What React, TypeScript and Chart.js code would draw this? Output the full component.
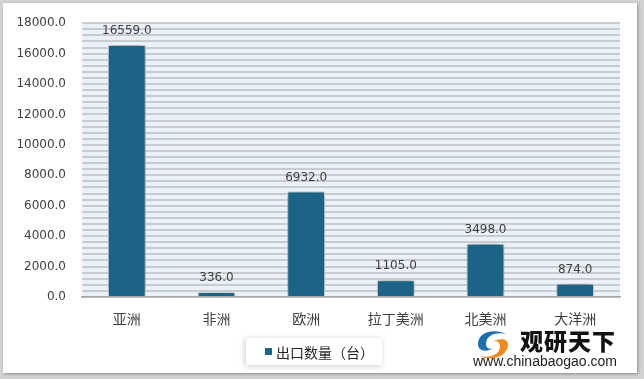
import React, { useEffect, useRef } from "react";
import { Chart, registerables } from "chart.js";

Chart.register(...registerables);

const categories = ["亚洲", "非洲", "欧洲", "拉丁美洲", "北美洲", "大洋洲"];
const exportCounts = [16559.0, 336.0, 6932.0, 1105.0, 3498.0, 874.0];
const seriesName = "出口数量（台）";
const yMax = 18000;
const yMajorStep = 2000;
const yStripeStep = 400;

const W = 644;
const H = 379;

export default function App() {
  const canvasRef = useRef<HTMLCanvasElement | null>(null);

  useEffect(() => {
    const canvas = canvasRef.current;
    if (!canvas) return;

    const bgPlugin = {
      id: "plotBg",
      beforeDraw(chart: any) {
        const { ctx, chartArea } = chart;
        ctx.save();
        ctx.fillStyle = "#eaf1f8";
        ctx.fillRect(chartArea.left, chartArea.top, chartArea.right - chartArea.left, chartArea.bottom - chartArea.top);
        ctx.restore();
      },
    };

    const shadowPlugin = {
      id: "barShadow",
      beforeDatasetsDraw(chart: any) {
        const ctx = chart.ctx;
        ctx.save();
        ctx.shadowColor = "rgba(0,0,0,0.6)";
        ctx.shadowBlur = 9;
        ctx.shadowOffsetX = 0;
        ctx.shadowOffsetY = 0;
      },
      afterDatasetsDraw(chart: any) {
        chart.ctx.restore();
      },
    };

    const labelPlugin = {
      id: "valueLabels",
      afterDraw(chart: any) {
        const ctx = chart.ctx;
        const meta = chart.getDatasetMeta(0);
        ctx.save();
        ctx.font = "12px 'DejaVu Sans', Verdana, sans-serif";
        ctx.fillStyle = "#404040";
        ctx.textAlign = "center";
        ctx.textBaseline = "alphabetic";
        meta.data.forEach((bar: any, i: number) => {
          const v = exportCounts[i];
          ctx.fillText(v.toFixed(1), bar.x, bar.y - 11);
        });
        ctx.restore();
      },
    };

    const chart = new Chart(canvas, {
      type: "bar",
      data: {
        labels: categories,
        datasets: [
          {
            label: seriesName,
            data: exportCounts,
            backgroundColor: "#1b6485",
            borderColor: "#f0f4f7",
            borderWidth: 1,
            categoryPercentage: 1,
            barPercentage: 0.42,
          },
        ],
      },
      options: {
        animation: false,
        responsive: false,
        devicePixelRatio: 1,
        layout: { padding: { top: 19, right: 24, bottom: 0, left: 0 } },
        plugins: {
          legend: { display: false },
          tooltip: { enabled: false },
        },
        scales: {
          x: {
            grid: { display: false, drawTicks: false },
            border: { display: true, color: "#a6a6a6", width: 1.5 },
            ticks: {
              color: "#404040",
              padding: 13,
              font: { family: "'Noto Sans CJK SC', sans-serif", size: 14 },
            },
            afterFit(scale: any) {
              scale.height = H - 297;
            },
          },
          y: {
            min: 0,
            max: yMax,
            grid: { color: "#c8cbcf", lineWidth: 2, drawTicks: false },
            border: { display: false },
            ticks: {
              stepSize: yStripeStep,
              autoSkip: false,
              padding: 16,
              color: "#404040",
              font: { family: "'DejaVu Sans', Verdana, sans-serif", size: 12 },
              callback(value: any) {
                const v = Number(value);
                return v % yMajorStep === 0 ? v.toFixed(1) : "";
              },
            },
            afterFit(scale: any) {
              scale.width = 82;
            },
          },
        },
      },
      plugins: [bgPlugin, shadowPlugin, labelPlugin],
    });

    return () => chart.destroy();
  }, []);

  return (
    <div style={{ position: "absolute", left: 0, top: 0, width: W, height: H, background: "#d3d3d3", overflow: "hidden" }}>
      <div
        style={{
          position: "absolute",
          left: 3,
          top: 3,
          width: 634,
          height: 370,
          background: "#ffffff",
          boxShadow: "1px 1px 3px rgba(0,0,0,0.35)",
        }}
      />
      <canvas ref={canvasRef} width={W} height={H} style={{ position: "absolute", left: 0, top: 0, width: W, height: H }} />
      <div
        style={{
          position: "absolute",
          left: 246,
          top: 338,
          width: 136,
          height: 27,
          background: "#ffffff",
          boxShadow: "-1px 1px 6px rgba(0,0,0,0.22)",
          display: "flex",
          alignItems: "center",
          fontFamily: "'Noto Sans CJK SC', sans-serif",
          fontSize: 14,
          color: "#262626",
        }}
      >
        <span style={{ display: "inline-block", width: 7, height: 7, background: "#1b6485", marginLeft: 19, marginRight: 4 }} />
        <span style={{ lineHeight: "14px", whiteSpace: "nowrap" }}>{seriesName}</span>
      </div>
      <svg style={{ position: "absolute", left: 472, top: 326 }} width={42} height={40} viewBox="0 0 42 40">
        <path d="M6 18 C6 6 22 2 34 8 C26 6 14 8 14 18 C14 22 18 24 21 22 C16 26 6 26 6 18 Z" fill="#1e6fb0" />
        <path d="M36 18 C36 30 20 36 8 30 C16 32 28 30 28 20 C28 16 24 14 21 16 C26 12 36 12 36 18 Z" fill="#f08a1c" />
      </svg>
      <div
        style={{
          position: "absolute",
          left: 520,
          top: 325,
          fontFamily: "'Noto Sans CJK SC', sans-serif",
          fontWeight: 900,
          fontSize: 23,
          letterSpacing: 1,
          color: "#111111",
          lineHeight: "30px",
          whiteSpace: "nowrap",
        }}
      >
        观研天下
      </div>
      <div
        style={{
          position: "absolute",
          left: 473,
          top: 353,
          fontFamily: "Arial, 'Liberation Sans', sans-serif",
          fontSize: 14,
          color: "#222222",
          lineHeight: "16px",
          whiteSpace: "nowrap",
        }}
      >
        www.chinabaogao.com
      </div>
    </div>
  );
}
